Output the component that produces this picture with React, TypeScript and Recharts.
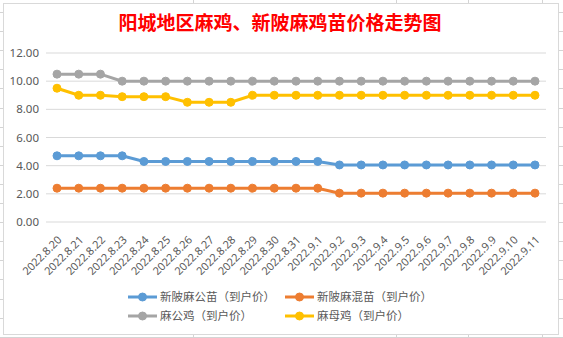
import React from 'react';
import { LineChart, Line, XAxis, YAxis, CartesianGrid } from 'recharts';

const categories = [
  '2022.8.20', '2022.8.21', '2022.8.22', '2022.8.23', '2022.8.24', '2022.8.25',
  '2022.8.26', '2022.8.27', '2022.8.28', '2022.8.29', '2022.8.30', '2022.8.31',
  '2022.9.1', '2022.9.2', '2022.9.3', '2022.9.4', '2022.9.5', '2022.9.6',
  '2022.9.7', '2022.9.8', '2022.9.9', '2022.9.10', '2022.9.11',
];

const gongMiao = [
  4.7, 4.7, 4.7, 4.7, 4.3, 4.3, 4.3, 4.3, 4.3, 4.3, 4.3, 4.3,
  4.3, 4.05, 4.05, 4.05, 4.05, 4.05, 4.05, 4.05, 4.05, 4.05, 4.05,
];
const hunMiao = [
  2.4, 2.4, 2.4, 2.4, 2.4, 2.4, 2.4, 2.4, 2.4, 2.4, 2.4, 2.4,
  2.4, 2.05, 2.05, 2.05, 2.05, 2.05, 2.05, 2.05, 2.05, 2.05, 2.05,
];
const gongJi = [
  10.5, 10.5, 10.5, 10, 10, 10, 10, 10, 10, 10, 10, 10,
  10, 10, 10, 10, 10, 10, 10, 10, 10, 10, 10,
];
const muJi = [
  9.5, 9.0, 9.0, 8.9, 8.9, 8.9, 8.5, 8.5, 8.5, 9.0, 9.0, 9.0,
  9.0, 9.0, 9.0, 9.0, 9.0, 9.0, 9.0, 9.0, 9.0, 9.0, 9.0,
];

const yTicks = [0, 2, 4, 6, 8, 10, 12];

const seriesNames = ['新陂麻公苗（到户价）', '新陂麻混苗（到户价）', '麻公鸡（到户价）', '麻母鸡（到户价）'];
const seriesColors = ['#5B9BD5', '#ED7D31', '#A5A5A5', '#FFC000'];
const seriesKeys = ['gongMiao', 'hunMiao', 'gongJi', 'muJi'];

const title = '阳城地区麻鸡、新陂麻鸡苗价格走势图';

const data = categories.map((c, i) => ({
  date: c,
  gongMiao: gongMiao[i],
  hunMiao: hunMiao[i],
  gongJi: gongJi[i],
  muJi: muJi[i],
}));

const sheetCols = [193, 396, 468, 542];

function SheetBackground() {
  const rows: number[] = [];
  for (let y = 12; y < 338; y += 19.1) rows.push(Math.round(y) + 0.5);
  return (
    <svg width={563} height={338} style={{ position: 'absolute', left: 0, top: 0 }}>
      <rect x={0} y={0} width={563} height={338} fill="#ffffff" />
      {rows.map((y, i) => (
        <line key={'r' + i} x1={0} x2={563} y1={y} y2={y} stroke="#d4d4d4" strokeWidth={1} />
      ))}
      {sheetCols.map((x, i) => (
        <line key={'c' + i} x1={x + 0.5} x2={x + 0.5} y1={0} y2={338} stroke="#d4d4d4" strokeWidth={1} />
      ))}
    </svg>
  );
}

function LegendIcon({ color }: { color: string }) {
  return (
    <svg width={29} height={10} style={{ display: 'block' }}>
      <line x1={0} x2={29} y1={5} y2={5} stroke={color} strokeWidth={3} />
      <circle cx={14.5} cy={5} r={4} fill={color} stroke={color} />
    </svg>
  );
}

export default function App() {
  return (
    <div style={{ position: 'absolute', left: 0, top: 0, width: 563, height: 338, overflow: 'hidden' }}>
      <SheetBackground />
      <div
        style={{
          position: 'absolute', left: 3, top: 3, width: 554, height: 330,
          background: '#ffffff', border: '1px solid #d9d9d9',
        }}
      />
      <div
        style={{
          position: 'absolute', left: 0, top: 10, width: 560, textAlign: 'center',
          fontFamily: '"Noto Sans CJK SC", sans-serif', fontWeight: 'bold',
          fontSize: 19, lineHeight: '24px', color: '#ff0000',
        }}
      >
        {title}
      </div>
      <div style={{ position: 'absolute', left: 0, top: 0 }}>
        <LineChart
          width={563}
          height={338}
          data={data}
          margin={{ top: 53, right: 17, bottom: 56, left: 0 }}
          style={{ fontFamily: '"Noto Sans", sans-serif' }}
        >
          <CartesianGrid vertical={false} stroke="#d9d9d9" strokeWidth={1} />
          <XAxis
            dataKey="date"
            interval={0}
            height={60}
            tickLine={false}
            axisLine={false}
            tickMargin={7}
            padding={{ left: 11, right: 11 }}
            angle={-45}
            textAnchor="end"
            tick={{ fontSize: 11, fill: '#595959' }}
          />
          <YAxis
            width={46}
            domain={[0, 12]}
            ticks={yTicks}
            tickLine={false}
            axisLine={false}
            tickMargin={1}
            tickFormatter={(v: number) => v.toFixed(2)}
            tick={{ fontSize: 11.5, fill: '#595959' }}
          />
          {seriesKeys.map((k, i) => (
            <Line
              key={k}
              type="linear"
              dataKey={k}
              name={seriesNames[i]}
              stroke={seriesColors[i]}
              strokeWidth={3}
              dot={{ r: 4, fill: seriesColors[i], stroke: seriesColors[i], strokeWidth: 1 }}
              activeDot={false}
              isAnimationActive={false}
            />
          ))}
        </LineChart>
      </div>
      <div
        style={{
          position: 'absolute', left: 128, top: 287, width: 320,
          fontFamily: '"Noto Sans CJK SC", sans-serif', fontSize: 11.5, color: '#595959',
          lineHeight: '19px',
        }}
      >
        {[0, 1].map((row) => (
          <div key={row} style={{ display: 'flex', height: 19 }}>
            {[0, 1].map((col) => {
              const idx = row * 2 + col;
              return (
                <div key={col} style={{ display: 'flex', alignItems: 'center', width: 157 }}>
                  <LegendIcon color={seriesColors[idx]} />
                  <span style={{ marginLeft: 3, whiteSpace: 'nowrap' }}>{seriesNames[idx]}</span>
                </div>
              );
            })}
          </div>
        ))}
      </div>
    </div>
  );
}
